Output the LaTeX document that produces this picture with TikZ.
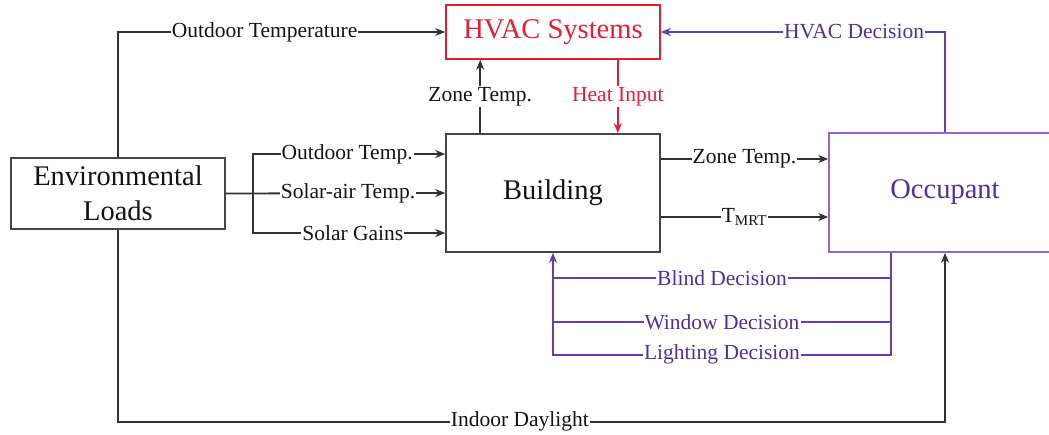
\documentclass[tikz,border=0pt]{standalone}
\usepackage{fontspec}
\setmainfont{Liberation Serif}
\usetikzlibrary{arrows.meta,calc}
\definecolor{hred}{RGB}{232,28,52}
\definecolor{ptext}{RGB}{78,48,160}
\definecolor{pline}{RGB}{100,62,172}
\definecolor{occbox}{RGB}{150,100,200}
\definecolor{linegray}{RGB}{50,50,50}
\definecolor{boxgray}{RGB}{70,70,70}
\definecolor{txt}{RGB}{20,20,20}
\begin{document}
\begin{tikzpicture}[x=1pt,y=-1pt,
  box/.style={draw=boxgray, line width=1.6pt, rectangle, inner sep=0pt, text=txt,
    font=\fontsize{28.5}{35}\selectfont, align=center},
  lab/.style={fill=white, inner sep=1pt, text=txt, font=\fontsize{21.5}{24}\selectfont},
  conn/.style={draw=linegray, line width=1.8pt},
  pconn/.style={draw=pline, line width=1.8pt},
  rconn/.style={draw=hred, line width=1.8pt},
  arr/.style={-{Stealth[length=10pt,width=8pt]}},
]
\useasboundingbox (0,0) rectangle (1049,435);
\fill[white] (0,0) rectangle (1049,435);

\node[box, minimum width=214pt, minimum height=71pt] (env) at (118,193.5) {Environmental\\Loads};
\node[box, draw=hred, text=hred, minimum width=214pt, minimum height=54pt] (hvac) at (553,32) {HVAC Systems};
\node[box, minimum width=214pt, minimum height=118pt] (bldg) at (553,193) {Building};
\node[box, draw=occbox, text=ptext, minimum width=232pt, minimum height=119pt] (occ) at (945,192.5) {Occupant};

% Outdoor temperature to HVAC
\draw[conn,arr] (env.north) |- node[lab,pos=0.724] {Outdoor Temperature} (hvac.west);

% Zone temp up to HVAC
\draw[conn,arr] ([xshift=35pt]bldg.north west) -- node[lab] {Zone Temp.} ([xshift=35pt]hvac.south west);

% Heat input down to building
\draw[rconn,arr] ([xshift=-43pt]hvac.south east) -- node[lab,text=hred] {Heat Input} ([xshift=-43pt]bldg.north east);

% Environmental loads to building
\draw[conn,arr] (env.east) -- ++(27,0) |- node[lab,pos=0.745] {Outdoor Temp.} ([yshift=39pt]bldg.west);
\draw[conn,arr] (env.east) -- node[lab,pos=0.557] {Solar-air Temp.} (bldg.west);
\draw[conn,arr] (env.east) -- ++(27,0) |- node[lab,pos=0.76] {Solar Gains} ([yshift=-40pt]bldg.west);

% Building to occupant
\draw[conn,arr] ([yshift=34pt]bldg.east) -- node[lab] {Zone Temp.} ([yshift=34pt]bldg.east -| occ.west);
\draw[conn,arr] ([yshift=-24pt]bldg.east) -- node[lab] {T\textsubscript{MRT}} ([yshift=-24pt]bldg.east -| occ.west);

% HVAC decision
\draw[pconn,arr] (occ.north) |- node[lab,text=ptext,pos=0.66] {HVAC Decision} (hvac.east);

% Occupant decisions back to building
\coordinate (dr) at ([xshift=-54pt]occ.south);
\coordinate (dl) at ([yshift=-102pt]bldg.south);
\draw[pconn] ([yshift=-25pt]dr) -- node[lab,text=ptext] {Blind Decision} ([yshift=-25pt]bldg.south);
\draw[pconn] ([yshift=-69pt]dr) -- node[lab,text=ptext] {Window Decision} ([yshift=-69pt]bldg.south);
\draw[pconn,arr] (dr) |- node[lab,text=ptext,pos=0.75] {Lighting Decision} (dl) -- (bldg.south);

% Indoor daylight
\draw[conn,arr] (env.south) -- ++(0,192) -| node[lab,pos=0.243] {Indoor Daylight} (occ.south);
\end{tikzpicture}
\end{document}
